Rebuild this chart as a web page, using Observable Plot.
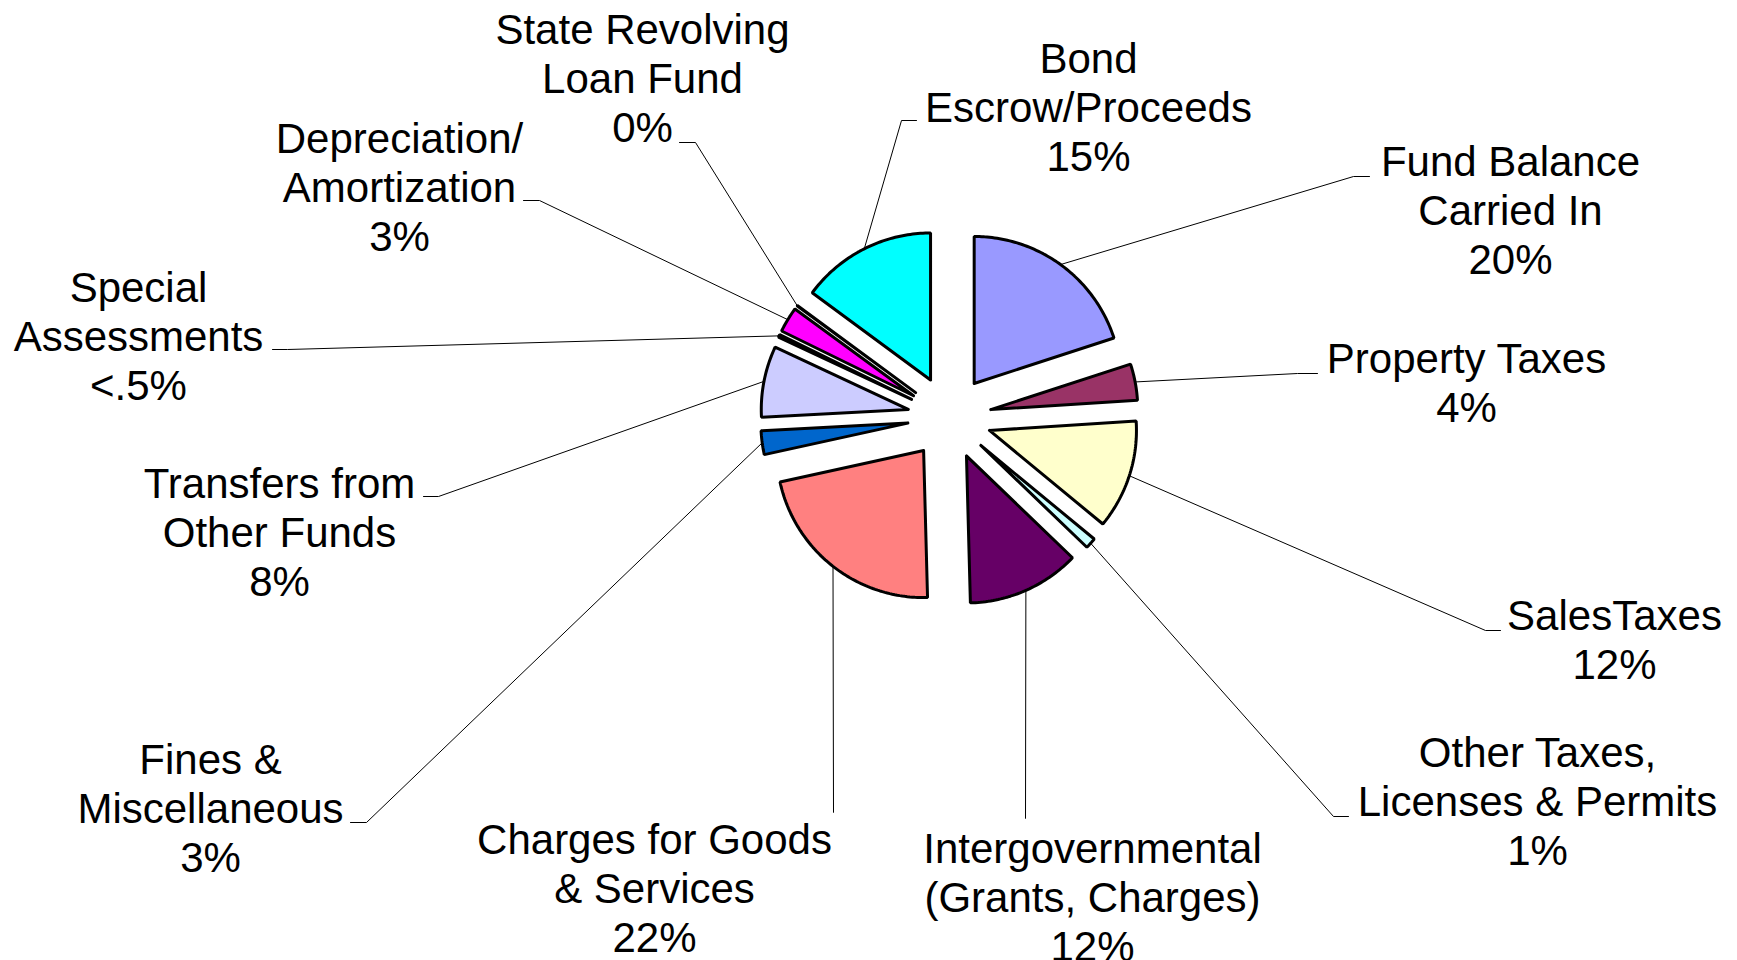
<!DOCTYPE html>
<html>
<head>
<meta charset="utf-8">
<script src="https://cdn.jsdelivr.net/npm/d3@7"></script>
<script src="https://cdn.jsdelivr.net/npm/@observablehq/plot@0.6"></script>
<style>
  html, body { margin: 0; padding: 0; background: #fff; }
  #chart svg { display: block; }
</style>
</head>
<body>
<div id="chart"></div>
<script>
// ---------- DATA ----------
const categories = [
  "Fund Balance\nCarried In",
  "Property Taxes",
  "SalesTaxes",
  "Other Taxes,\nLicenses & Permits",
  "Intergovernmental\n(Grants, Charges)",
  "Charges for Goods\n& Services",
  "Fines &\nMiscellaneous",
  "Transfers from\nOther Funds",
  "Special\nAssessments",
  "Depreciation/\nAmortization",
  "State Revolving\nLoan Fund",
  "Bond\nEscrow/Proceeds"
];
const values = [20, 4, 12, 1.2, 12.4, 22, 2.6, 7.8, 0.3, 2.8, 0.05, 14.9];
const percentLabels = ["20%", "4%", "12%", "1%", "12%", "22%", "3%", "8%", "<.5%", "3%", "0%", "15%"];

// ---------- STYLE / LAYOUT ----------
const colors = ["#9999FF", "#993366", "#FFFFCC", "#CCFFFF", "#660066", "#FF8080",
                "#0066CC", "#CCCCFF", "#000080", "#FF00FF", "#FFFF00", "#00FFFF"];
// label block: centre x, first baseline y; leader elbow and end near the label
const labelLayout = [
  {cx: 1510, by: 175, elbow: [1353, 176], end: [1369, 176]},
  {cx: 1466, by: 372, elbow: [1297, 373], end: [1317, 373]},
  {cx: 1614, by: 629, elbow: [1485, 630], end: [1500, 630]},
  {cx: 1537, by: 766, elbow: [1333, 816], end: [1348, 816]},
  {cx: 1092, by: 862, elbow: [1025, 818], end: [1025, 818]},
  {cx: 654,  by: 853, elbow: [833, 812],  end: [833, 812]},
  {cx: 210,  by: 773, elbow: [366, 822],  end: [350, 822]},
  {cx: 279,  by: 497, elbow: [438, 496],  end: [423, 496]},
  {cx: 138,  by: 301, elbow: [287, 349],  end: [272, 349]},
  {cx: 399,  by: 152, elbow: [539, 200],  end: [523, 200]},
  {cx: 642,  by: 43,  elbow: [695, 142],  end: [679, 142]},
  {cx: 1088, by: 72,  elbow: [901, 120],  end: [916, 120]}
];
const W = 1737, H = 960;
const CX = 949, CY = 417, R = 147, EXPLODE = 42;
const FONT = 42, LINE = 49;

// ---------- BUILD ----------
const rows = categories.map((c, i) => ({name: c, value: values[i], pct: percentLabels[i], color: colors[i], layout: labelLayout[i]}));
const arcs = d3.pie().sort(null).value(d => d.value)(rows);

const slicePts = [];
const leaderPts = [];
arcs.forEach((a, i) => {
  const m = (a.startAngle + a.endAngle) / 2;
  const ox = CX + EXPLODE * Math.sin(m), oy = CY - EXPLODE * Math.cos(m);
  const name = a.data.name, color = a.data.color;
  slicePts.push({name, color, x: ox, y: oy});
  const n = Math.max(2, Math.ceil((a.endAngle - a.startAngle) / (Math.PI / 180)));
  for (let k = 0; k <= n; k++) {
    const t = a.startAngle + (a.endAngle - a.startAngle) * k / n;
    slicePts.push({name, color, x: ox + R * Math.sin(t), y: oy - R * Math.cos(t)});
  }
  slicePts.push({name, color, x: ox, y: oy});

  const L = a.data.layout;
  leaderPts.push({name, x: CX + (R + EXPLODE) * Math.sin(m), y: CY - (R + EXPLODE) * Math.cos(m)});
  leaderPts.push({name, x: L.elbow[0], y: L.elbow[1]});
  leaderPts.push({name, x: L.end[0], y: L.end[1]});
});

const textRows = rows.flatMap(r => {
  const lines = r.name.split("\n").concat([r.pct]);
  return lines.map((t, j) => ({t, x: r.layout.cx, y: r.layout.by + j * LINE}));
});

const chart = Plot.plot({
  width: W,
  height: H,
  margin: 0,
  x: {domain: [0, W], range: [0, W], axis: null},
  y: {domain: [0, H], range: [0, H], axis: null},
  color: {type: "identity"},
  style: {fontFamily: "'Liberation Sans', Arial, sans-serif", background: "#fff"},
  marks: [
    Plot.line(leaderPts, {x: "x", y: "y", z: "name", stroke: "#000", strokeWidth: 1, strokeLinejoin: "miter"}),
    Plot.line(slicePts, {x: "x", y: "y", z: "name", fill: "color", stroke: "#000", strokeWidth: 3, strokeLinejoin: "miter"}),
    Plot.text(textRows, {x: "x", y: "y", text: "t", textAnchor: "middle", lineAnchor: "bottom", fontSize: FONT, fill: "#000"})
  ]
});
document.getElementById("chart").appendChild(chart);
</script>
</body>
</html>
